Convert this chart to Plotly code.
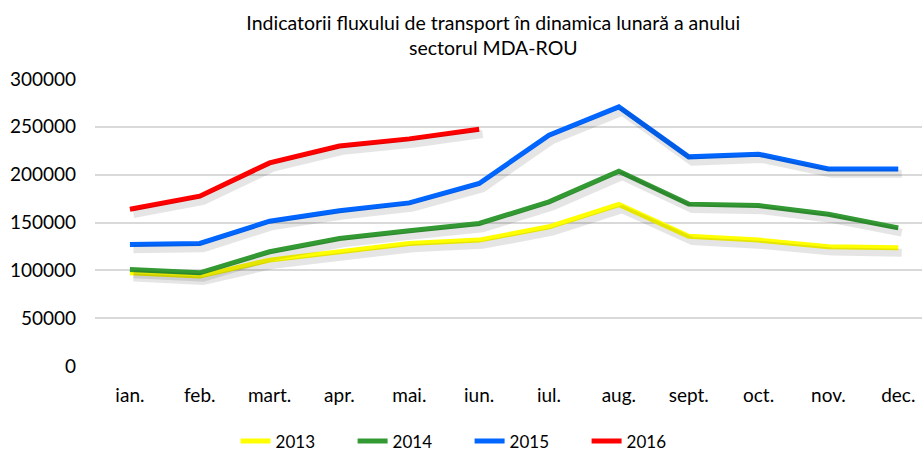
import plotly.graph_objects as go

months = ['ian.', 'feb.', 'mart.', 'apr.', 'mai.', 'iun.', 'iul.', 'aug.', 'sept.', 'oct.', 'nov.', 'dec.']
years = ['2013', '2014', '2015', '2016']
colors = ['#FFFF00', '#339933', '#0066FF', '#FF0000']

v2013 = [97400, 94000, 110700, 119400, 128100, 131600, 145500, 168800, 135700, 131600, 124600, 123500]
v2014 = [101000, 97400, 119400, 133300, 141300, 149000, 171600, 203600, 169200, 167800, 158700, 144400]
v2015 = [127000, 128100, 151400, 162200, 170500, 190800, 241200, 270800, 218600, 221400, 206000, 206000]
v2016 = [163900, 177500, 212300, 230000, 237400, 247500]

series = [v2013, v2014, v2015, v2016]

fig = go.Figure()

# umbra liniilor (axe secundare decalate cu cativa pixeli)
for vals in series:
    fig.add_trace(go.Scatter(
        x=months[:len(vals)], y=vals, mode='lines',
        line=dict(color='rgba(0,0,0,0.10)', width=8),
        xaxis='x2', yaxis='y2', showlegend=False, hoverinfo='skip'
    ))

for name, vals, col in zip(years, series, colors):
    fig.add_trace(go.Scatter(
        x=months[:len(vals)], y=vals, mode='lines', name=name,
        line=dict(color=col, width=5)
    ))

fig.update_layout(
    width=922, height=452,
    paper_bgcolor='white', plot_bgcolor='white',
    margin=dict(l=95, r=0, t=79, b=86, autoexpand=False),
    font=dict(family='Lato, Open Sans, Arial', size=19, color='#000000'),
    title=dict(
        text='Indicatorii fluxului de transport în dinamica lunară a anului<br>sectorul MDA-ROU',
        x=0.535, xanchor='center', y=0.934, yanchor='top',
        font=dict(size=19.5, color='#000000')
    ),
    xaxis=dict(
        type='category', categoryarray=months, range=[-0.5, 11.34],
        showgrid=False, showline=False, zeroline=False, automargin=False,
        ticks='', ticklabelstandoff=16, tickfont=dict(size=19)
    ),
    yaxis=dict(
        range=[0, 300000], dtick=50000, tickformat='d',
        showgrid=True, gridcolor='#D9D9D9', gridwidth=2, automargin=False,
        zeroline=False, showline=False, ticks='',
        ticklabelstandoff=18, tickfont=dict(size=19)
    ),
    xaxis2=dict(
        type='category', categoryarray=months, range=[-0.5 - 0.05, 11.34 - 0.05],
        overlaying='x', visible=False
    ),
    yaxis2=dict(
        range=[0 + 5000, 300000 + 5000], overlaying='y', visible=False
    ),
    legend=dict(
        orientation='h', x=0.17, xanchor='left', y=-0.2, yanchor='top',
        font=dict(size=17), itemwidth=30, entrywidth=72, entrywidthmode='pixels',
        tracegroupgap=0
    ),
    showlegend=True
)

# fara marginea implicita a paginii
fig.write_html("out.html", config={'displayModeBar': False},
               post_script="document.body.style.margin='0';")
